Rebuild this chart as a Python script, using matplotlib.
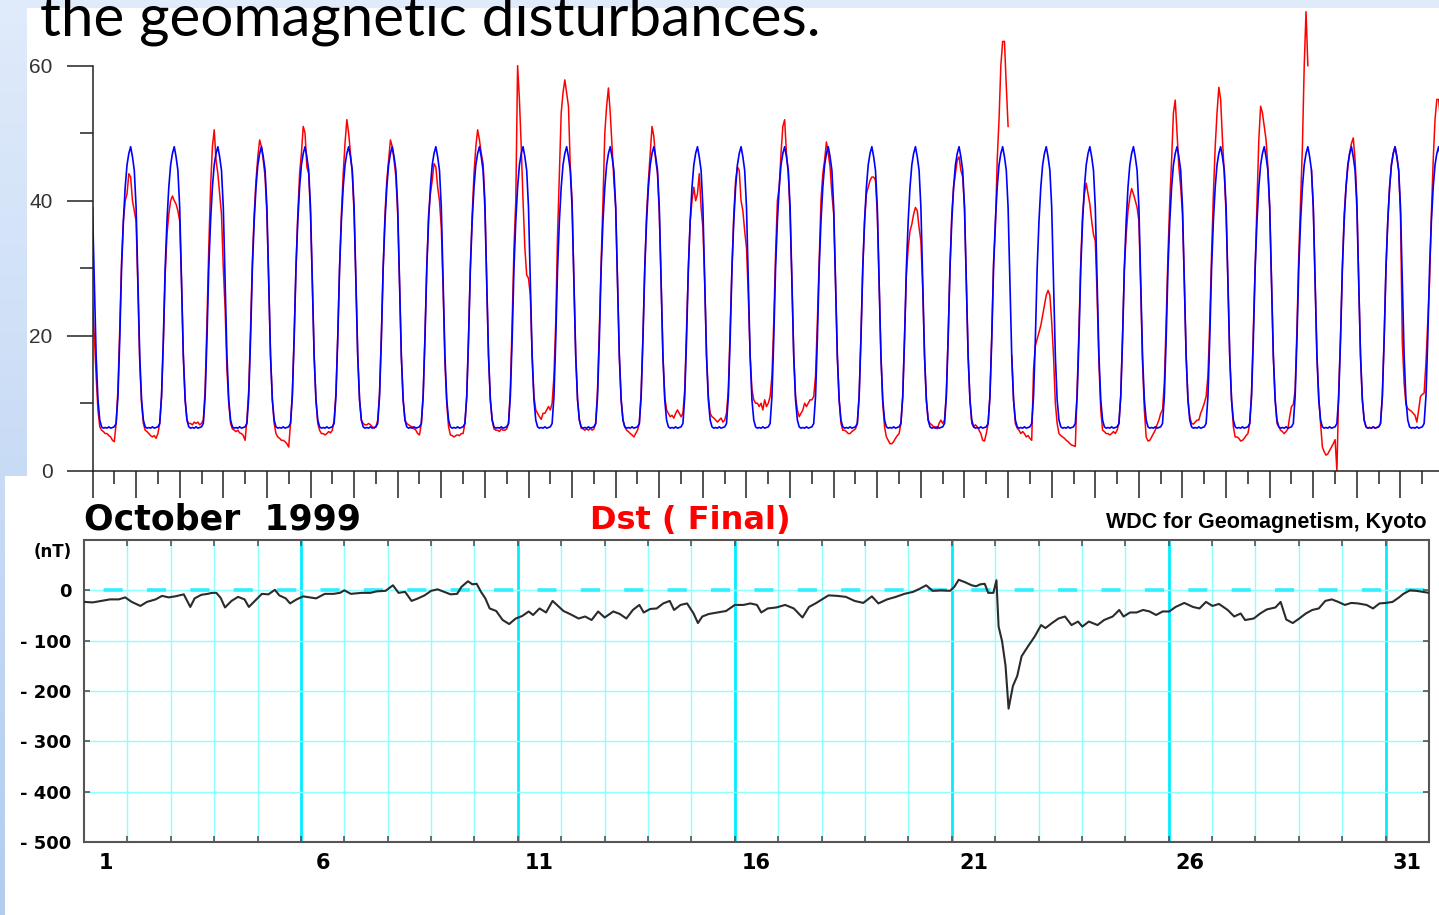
import numpy as np
import matplotlib
matplotlib.use('Agg')
import matplotlib.pyplot as plt
from matplotlib.patches import Rectangle

W, H = 1439, 915
nan = float('nan')

# ---------------- texts ----------------
title_text = "the geomagnetic disturbances."
month_label = "October  1999"
index_label = "Dst ( Final)"
source_label = "WDC for Geomagnetism, Kyoto"
unit_label = "(nT)"

top_yticks = [0, 20, 40, 60]
top_yminor = [10, 30, 50]
dst_yticks = [-500, -400, -300, -200, -100, 0]
dst_ylabels = ['- 500', '- 400', '- 300', '- 200', '- 100', '0']
day_labels = ['1', '6', '11', '16', '21', '26', '31']

# ---------------- upper panel data (hourly, Oct 1-31) ----------------
# quiet-day reference curve (blue), identical every day
quiet_day_profile = [39, 28, 17, 10.5, 7.5, 6.5, 6.3, 6.4, 6.3, 6.5, 6.3, 6.4,
                     6.5, 7, 11, 19.5, 30, 37, 42, 45.3, 47, 48, 46.5, 44.5]
n_days = 31

# observed curve (red), one row per day
red_w1 = [
    25, 20, 14, 9, 6.5, 6, 5.8, 5.5, 5.5, 5.2, 5, 4.5, 4.3, 7, 12, 21, 31, 37, 40, 41, 44, 43.5, 40, 38.5,
    37, 27, 16, 10, 7, 6, 5.8, 5.5, 5.2, 5.0, 5.2, 4.8, 5.5, 7, 11, 19, 29, 35, 38, 40, 40.7, 40, 39.5, 38.5,
    37, 28, 17, 10.5, 7.5, 7, 7, 6.8, 7.2, 7, 7.2, 6.8, 7, 7.5, 12, 22, 33, 42, 48, 50.5, 46, 44, 41, 38,
    30, 24, 15, 10, 7, 6.2, 6, 5.8, 6, 5.6, 5.5, 5.2, 4.5, 7.5, 12, 21, 31, 38, 43, 46.5, 49, 48, 46, 43.5,
    38, 28, 17, 10.5, 7, 5.5, 5, 4.8, 4.5, 4.5, 4.3, 4, 3.5, 7, 11.5, 20, 30, 38, 44, 47, 51, 50, 45, 44,
    38, 28, 17, 10.5, 7, 6, 5.5, 5.5, 5.3, 5.5, 5.8, 5.6, 6, 7.5, 11.5, 20, 30, 38, 44, 48.5, 52, 50, 47, 44,
    38, 28, 17, 10.5, 7.5, 7, 6.8, 6.8, 7, 6.8, 6.5, 6.3, 6.5, 7.5, 11.5, 20, 30, 38, 43, 46, 49, 48, 46, 43.5,
]
red_w2 = [
    38, 28, 17, 10.5, 7.5, 7, 6.8, 6.6, 6.5, 6.2, 6, 5.5, 5.3, 7, 11, 20, 30, 38, 41, 43, 45.5, 45, 42, 40,
    36, 27, 16, 10, 6.5, 5.3, 5.2, 5, 5.2, 5.3, 5.2, 5.5, 5.5, 7, 11, 20, 30, 38, 44, 48, 50.5, 49, 47, 45.5,
    40, 28, 17, 10.5, 7.5, 6.2, 6, 6, 5.8, 6.2, 6, 6, 6.2, 7, 12, 22, 33, 40, 60, 55, 48, 40, 33, 29,
    28.5, 26, 17, 11, 9, 8.5, 8, 7.6, 8.5, 8.5, 9, 9.5, 9, 10, 14, 22, 35, 44, 53, 56, 57.9, 56, 54, 45,
    40, 28, 17, 10.5, 7.5, 6.3, 6.2, 6, 6.2, 6, 6.3, 6, 6.2, 7, 12, 21, 31, 40, 50, 54, 56.7, 53, 48, 43,
    39, 28, 17, 10.5, 7.5, 6.5, 6, 5.8, 5.5, 5.3, 5, 5.5, 6, 7, 11.5, 20, 30, 38, 43, 47, 51, 49.5, 46, 44,
    38, 28, 17, 11, 9, 8.5, 8, 8.2, 7.8, 8.5, 9, 8.5, 8, 8.5, 12, 21, 30, 37, 40, 42, 40, 41, 44, 39,
]
red_w3 = [
    36, 28, 17, 11, 8.5, 8, 7.8, 7.5, 7.2, 7.5, 7.8, 7.2, 7.5, 8.5, 12, 21, 30, 38, 43, 45, 44.5, 40, 38.5, 35.5,
    33, 26, 17, 12, 10.5, 10, 10, 9.5, 10, 9, 10.5, 9.5, 10, 11, 14, 22, 32, 40, 42, 47, 51, 52, 47, 44,
    38, 28, 17, 11, 9, 8, 8.5, 9, 10, 9.5, 10, 10.5, 10.5, 11, 14, 22, 31, 40, 44, 46, 48.7, 47, 45, 41,
    38, 28, 17, 10.5, 7, 6, 6, 5.8, 5.5, 5.5, 5.8, 6, 6.2, 7, 11, 20, 30, 37, 41, 42, 43, 43.5, 43.5, 43,
    38, 28, 17, 10, 6.5, 5, 4.5, 4, 4, 4.3, 4.8, 5.2, 5.5, 7, 11, 20, 29, 33, 35.5, 36.5, 38, 39, 38.5, 36,
    34, 27, 17, 10.5, 7.5, 7, 6.8, 6.5, 6.5, 6.2, 7, 7.5, 7, 7.5, 11.5, 20, 30, 38, 42, 44, 46, 46.5, 44.5, 43.5,
    39, 28, 17, 10.5, 7, 6.5, 6.8, 6.5, 6, 5.5, 4.5, 4.4, 5.5, 7, 11, 20, 31, 36, 46, 52, 60, 63.6, 63.6, 57,
]
red_w4 = [
    51, nan, 17, 10.5, 7, 6.3, 6, 5.5, 5.8, 5.5, 5, 5.2, 4.8, 4.5, 15, 18.5, 19.5, 20.5, 21.5, 23, 24.5, 26, 26.7, 26,
    22, 17, 10, 7, 5.5, 5.2, 5, 4.8, 4.5, 4.3, 4, 3.8, 3.7, 3.6, 12, 21, 31, 38, 41, 42.6, 41, 39.5, 37, 35,
    34, 26, 16, 9, 6, 5.8, 5.5, 5.5, 5.3, 5.5, 5.8, 5.5, 6, 7, 11, 20, 30, 35, 38.5, 40.5, 41.8, 41, 40, 39,
    37, 27, 16, 9, 5, 4.4, 4.5, 5, 5.5, 6, 6.8, 7.5, 8.5, 9, 13, 22, 32, 40, 46, 53, 54.9, 50, 45, 42,
    38, 28, 17, 10.5, 8, 7, 6.9, 7.2, 7.5, 7.5, 8.5, 9.2, 10, 11, 14, 22, 32, 41, 48, 53, 56.8, 55, 49, 44,
    38, 28, 17, 10.5, 6.5, 5, 5, 4.8, 4.4, 4.5, 4.8, 5.2, 5.5, 7, 11.5, 21, 31, 40, 49, 54, 53, 51, 49, 45,
    39, 28, 17, 10.5, 7, 6.5, 6, 5.8, 5.5, 5.8, 6.2, 8, 9.5, 9.8, 12, 21, 32, 40, 48, 60, 68, 60, nan, 44.5,
]
red_w5 = [
    39, 28, 17, 11, 7, 3.5, 2.8, 2.3, 2.5, 3, 3.5, 4, 4.6, 0, 12, 20, 30, 38, 42, 45, 47, 48.5, 49.3, 46,
    40, 28, 17, 10.5, 7.5, 6.5, 6.3, 6.4, 6.3, 6.5, 6.3, 6.4, 6.5, 7, 11, 19.5, 30, 37, 42, 45.3, 47, 48, 46.5, 44.5,
    38, 19, 13, 9.8, 9.2, 9, 8.8, 8.5, 8.2, 7.2, 9, 11, 11.3, 11.5, 16, 22, 28, 38, 46, 52, 55, 55, 52, 48,
]

# ---------------- Dst (nT), October 1999 ----------------
dst_day_a = [0.00, 0.20, 0.40, 0.60, 0.80, 0.95, 1.10, 1.30, 1.45, 1.65, 1.80, 1.95, 2.10, 2.30, 2.45, 2.55,
             2.70, 2.85, 2.95, 3.05, 3.15, 3.25, 3.40, 3.55, 3.70, 3.80, 3.95, 4.10, 4.25, 4.40, 4.50, 4.65,
             4.75, 4.90, 5.05, 5.20, 5.35, 5.55, 5.75, 5.90, 6.00, 6.15, 6.40, 6.60, 6.75, 6.95, 7.12, 7.25,
             7.40, 7.55, 7.70, 7.85, 8.00, 8.15, 8.30, 8.45, 8.60, 8.70, 8.85, 8.95, 9.05, 9.15, 9.25, 9.35,
             9.50, 9.65, 9.80, 9.95, 10.10, 10.25, 10.35, 10.50, 10.65, 10.80, 10.95, 11.05, 11.20, 11.40,
             11.55, 11.70, 11.85, 12.00, 12.20, 12.35, 12.50, 12.65, 12.80, 12.90, 13.05, 13.20, 13.35, 13.50,
             13.60, 13.75, 13.90, 14.05, 14.15, 14.25, 14.40, 14.60, 14.80, 15.00, 15.20]
dst_nt_a = [-23, -24, -21, -18, -18, -14, -23, -31, -23, -18, -11, -14, -12, -8, -33, -16,
            -9, -7, -5, -5, -15, -34, -21, -13, -18, -33, -20, -7, -8, 1, -10, -16,
            -26, -18, -12, -14, -16, -7, -7, -5, 0, -7, -5, -5, -2, -1, 10, -5,
            -3, -21, -16, -10, -1, 2, -3, -8, -7, 7, 18, 12, 13, -3, -16, -36,
            -41, -59, -67, -56, -51, -42, -49, -36, -44, -21, -33, -41, -47, -56,
            -52, -59, -42, -54, -42, -47, -56, -39, -29, -44, -37, -36, -26, -21,
            -39, -29, -26, -46, -65, -52, -47, -44, -41, -29, -29]
dst_day_b = [15.36, 15.51, 15.61, 15.76, 15.96, 16.16, 16.36, 16.56, 16.71, 16.86, 17.01, 17.16, 17.36,
             17.56, 17.76, 17.96, 18.16, 18.31, 18.51, 18.71, 18.91, 19.11, 19.26, 19.41, 19.56, 19.76,
             19.96, 20.06, 20.16, 20.31, 20.46, 20.56, 20.66, 20.76, 20.84, 20.96, 21.03, 21.08, 21.16,
             21.24, 21.31, 21.41, 21.51, 21.61, 21.76, 21.91, 22.06, 22.16, 22.31, 22.46, 22.61, 22.76,
             22.91, 23.01, 23.16, 23.36, 23.51, 23.71, 23.86, 23.96, 24.11, 24.26, 24.41, 24.56, 24.71,
             24.86, 25.01, 25.16, 25.36, 25.56, 25.71, 25.86, 26.01, 26.16, 26.36, 26.51, 26.66, 26.76,
             26.96, 27.11, 27.26, 27.46, 27.58, 27.71, 27.86, 28.01, 28.16, 28.31, 28.46, 28.61, 28.76,
             28.91, 29.06, 29.21, 29.36, 29.56, 29.71, 29.86, 30.01, 30.16, 30.31, 30.41, 30.56, 30.71,
             30.86, 31.0]
dst_nt_b = [-26, -29, -44, -36, -34, -29, -36, -54, -33, -26, -18, -10, -11,
            -13, -21, -25, -12, -26, -18, -13, -7, -3, 3, 10, -1, 0,
            -1, 7, 21, 16, 10, 8, 12, 13, -5, -5, 20, -72, -101,
            -150, -235, -190, -170, -131, -111, -92, -69, -75, -65, -56, -52, -69,
            -62, -72, -62, -69, -59, -52, -39, -52, -44, -44, -39, -42, -49,
            -42, -42, -33, -25, -33, -36, -23, -31, -27, -39, -52, -46, -59,
            -56, -46, -38, -34, -23, -58, -65, -56, -46, -39, -36, -21, -18,
            -23, -29, -25, -26, -29, -36, -26, -25, -23, -14, -7, 0, -1,
            -3, -5]

# ---------------- figure ----------------
fig = plt.figure(figsize=(W / 100, H / 100), dpi=100)


def fx(x):
    return x / W


def fy(y):
    return 1 - y / H


bg = fig.add_axes([0, 0, 1, 1])
grad = np.linspace(0, 1, 256)[:, None, None]
c_top = np.array([224, 235, 251]) / 255
c_bot = np.array([178, 205, 240]) / 255
img = c_top * (1 - grad) + c_bot * grad
bg.imshow(img, extent=[0, W, H, 0], aspect='auto', interpolation='bilinear')
bg.add_patch(Rectangle((27, 8), W - 27, 476 - 8, facecolor='white', edgecolor='none'))
bg.add_patch(Rectangle((5, 476), W - 5, H - 476, facecolor='white', edgecolor='none'))
bg.set_xlim(0, W)
bg.set_ylim(H, 0)
bg.axis('off')

# slide heading: in the source slide it runs past the top edge
fig.text(fx(40), fy(35), title_text, fontsize=42, family=['Lato', 'DejaVu Sans'],
         color='black', ha='left', va='baseline')

# ---------------- upper panel ----------------
px_per_day = 43.6
px_per_unit = 6.75
ax1 = fig.add_axes([fx(92.5), fy(470.7), fx(W) - fx(92.5), fy(8) - fy(470.7)])
ax1.patch.set_alpha(0)
red = np.array(red_w1 + red_w2 + red_w3 + red_w4 + red_w5, dtype=float)
blue = np.tile(np.array(quiet_day_profile, dtype=float), n_days)
hours = np.arange(n_days * 24) / 24.0
ax1.plot(hours, red, color='#ff0000', lw=1.1, zorder=2)
ax1.plot(hours, blue, color='#0000ff', lw=1.2, zorder=3)
ax1.set_xlim(0, (W - 92.5) / px_per_day)
ax1.set_ylim(0, (470.7 - 8) / px_per_unit)
for s in ['top', 'right']:
    ax1.spines[s].set_visible(False)
ax1.spines['left'].set_bounds(0, 60)
for s in ['left', 'bottom']:
    ax1.spines[s].set_color('#222222')
    ax1.spines[s].set_linewidth(1.1)
ax1.set_yticks(top_yticks)
ax1.set_yticks(top_yminor, minor=True)
ax1.set_yticklabels([str(v) for v in top_yticks])
ax1.set_xticks(np.arange(0, n_days))
ax1.set_xticks(np.arange(0.5, n_days, 1.0), minor=True)
ax1.tick_params(axis='y', which='major', direction='out', length=18.7, width=1.1,
                color='#222222', labelsize=15, labelcolor='#333333', pad=10)
ax1.tick_params(axis='y', which='minor', direction='out', length=9.4, width=1.1, color='#222222')
ax1.tick_params(axis='x', which='major', direction='out', length=19.4, width=1.1,
                color='#222222', labelbottom=False)
ax1.tick_params(axis='x', which='minor', direction='out', length=9.7, width=1.1,
                color='#222222', labelbottom=False)
for lab in ax1.get_yticklabels():
    lab.set_family(['Liberation Sans', 'DejaVu Sans'])

# ---------------- Dst panel ----------------
ax2 = fig.add_axes([fx(84), fy(842), fx(1429) - fx(84), fy(540) - fy(842)])
ax2.set_xlim(0, 31)
ax2.set_ylim(-500, 100)
for d in range(1, 31):
    if d % 5 == 0:
        ax2.axvline(d, color='#00eeff', lw=2.0, zorder=1)
    else:
        ax2.axvline(d, color='#8cffff', lw=1.0, zorder=1)
for v in [-400, -300, -200, -100, 0]:
    ax2.axhline(v, color='#8cffff', lw=1.0, zorder=1)
ax2.axhline(0, color='#30f0ff', lw=2.6, linestyle=(6.6, (5.3, 6.715)), zorder=1)
ax2.plot(dst_day_a + dst_day_b, dst_nt_a + dst_nt_b, color='#2b2b2b', lw=1.5, zorder=3)

for s in ax2.spines.values():
    s.set_color('#555555')
    s.set_linewidth(1.5)
ax2.set_yticks(dst_yticks)
ax2.set_yticklabels(dst_ylabels)
ax2.set_xticks(np.arange(1, 31))
ax2.set_xticks([int(v) - 0.5 for v in day_labels], minor=True)
ax2.set_xticklabels(day_labels, minor=True)
ax2.tick_params(axis='x', which='major', direction='in', length=4, width=1.2,
                color='#555555', top=True, bottom=True, labelbottom=False)
ax2.tick_params(axis='x', which='minor', length=0, labelsize=15, pad=8)
ax2.tick_params(axis='y', which='major', direction='in', length=4, width=1.2,
                color='#555555', left=True, right=True, labelsize=13, pad=9)
for lab in ax2.get_xticklabels(minor=True) + ax2.get_yticklabels():
    lab.set_fontweight('bold')
    lab.set_family('DejaVu Sans')

fig.text(fx(84), fy(529), month_label, fontsize=25, fontweight='bold',
         family='DejaVu Sans', ha='left', va='baseline', color='black')
fig.text(fx(590), fy(529), index_label, fontsize=23, fontweight='bold',
         family='DejaVu Sans', ha='left', va='baseline', color='#ff0000')
fig.text(fx(1427), fy(528), source_label, fontsize=15.5, fontweight='bold',
         family=['Liberation Sans Narrow', 'Liberation Sans', 'DejaVu Sans'],
         ha='right', va='baseline', color='black')
fig.text(fx(53), fy(552), unit_label, fontsize=12, fontweight='bold',
         family='DejaVu Sans', ha='center', va='center', color='black')

fig.savefig('out.png', dpi=100)
